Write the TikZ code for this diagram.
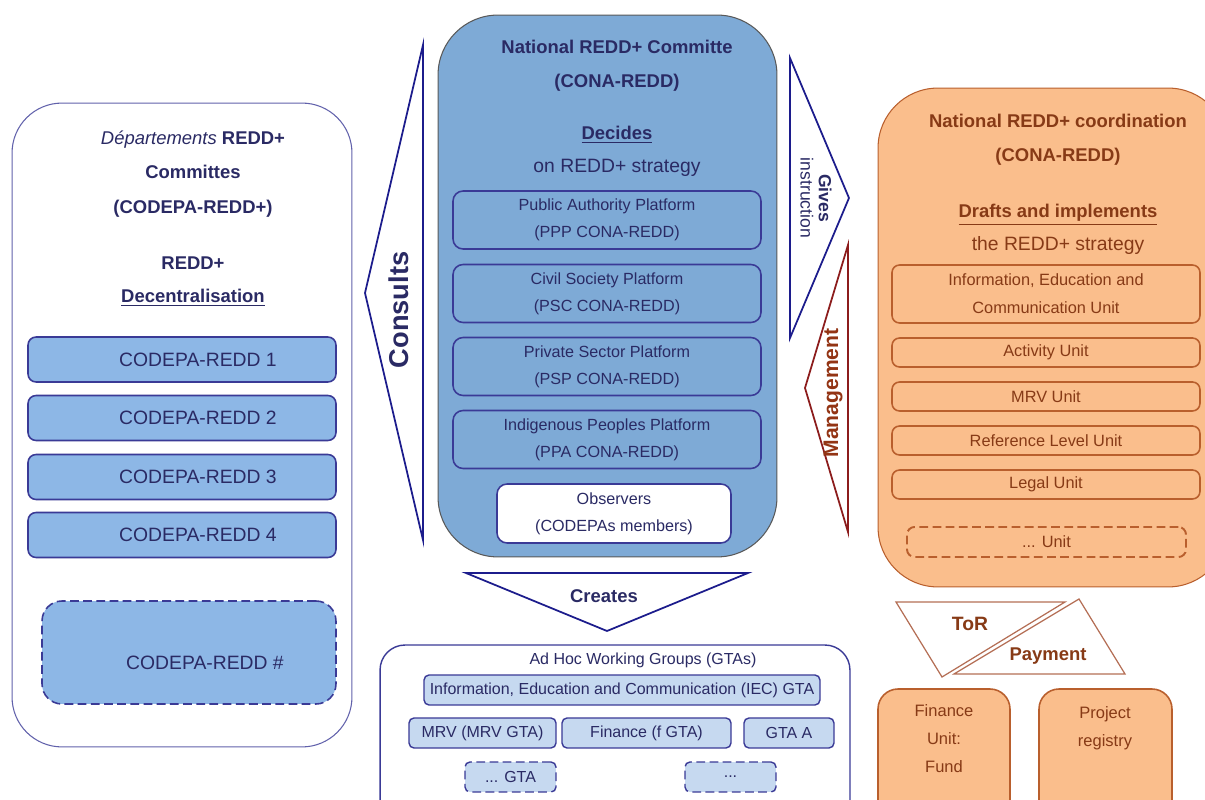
\documentclass[tikz,border=0pt]{standalone}
\usepackage{fontspec}
\setmainfont{Liberation Sans}
\newcommand{\setfs}[2]{\fontsize{#1}{#2}\selectfont}
\definecolor{navy}{RGB}{42,42,100}
\definecolor{edgeblue}{RGB}{58,58,150}
\definecolor{arrowblue}{RGB}{28,28,140}
\definecolor{conablue}{RGB}{126,170,214}
\definecolor{codepablue}{RGB}{141,183,230}
\definecolor{gtablue}{RGB}{198,217,240}
\definecolor{coordorange}{RGB}{250,190,140}
\definecolor{orangeedge}{RGB}{185,95,45}
\definecolor{coordbrown}{RGB}{135,58,22}
\definecolor{mgmtred}{RGB}{140,28,28}
\definecolor{tribrown}{RGB}{180,110,85}

\begin{document}
\begin{tikzpicture}[x=0.02cm, y=-0.02cm,
  panel/.style={draw, line width=0.6pt},
  head/.style={align=center, text=navy, font=\bfseries\setfs{10.5}{19.5}},
  codepabox/.style={draw=edgeblue, fill=codepablue, line width=0.9pt, rounded corners=0.16cm,
    minimum width=6.16cm, minimum height=0.9cm, text=navy, font=\setfs{11}{13},
    execute at begin node={\hspace*{0.64cm}}},
  platform/.style={draw=edgeblue, line width=0.9pt, rounded corners=0.2cm, minimum width=6.16cm,
    minimum height=1.16cm, align=center, text=navy, font=\setfs{9.2}{15.3}},
  unit/.style={draw=orangeedge, line width=0.9pt, rounded corners=0.15cm, minimum width=6.16cm,
    minimum height=0.58cm, align=center, text=coordbrown, font=\setfs{9.3}{15.9}},
  gtabox/.style={draw=edgeblue, fill=gtablue, line width=0.8pt, rounded corners=0.1cm,
    minimum height=0.6cm, inner sep=1pt, text=navy, font=\setfs{9.1}{11}},
  wedge/.style={line width=1pt, line join=miter},
  longdash/.style={dash pattern=on 5pt off 2.5pt}]
  \useasboundingbox (0,0) rectangle (1205,800);

  \node[panel, draw=edgeblue!80, fill=white, minimum width=6.8cm, minimum height=12.88cm, rounded corners=1cm] (codepa) at (182,425) {};
  \node[head] (codepaT) at (193,174) {\textit{\mdseries Départements} REDD+\\Committes\\(CODEPA-REDD+)};
  \node[head, font=\bfseries\setfs{10.5}{18.7}] (codepaD) at (193,281.5) {REDD+\\\underline{Decentralisation}};
  \node[codepabox] (c1) at (182,359.5) {CODEPA-REDD 1};
  \node[codepabox] (c2) at (182,418) {CODEPA-REDD 2};
  \node[codepabox] (c3) at (182,477) {CODEPA-REDD 3};
  \node[codepabox] (c4) at (182,535) {CODEPA-REDD 4};
  \node[codepabox, longdash, minimum width=5.88cm, minimum height=2.06cm, rounded corners=0.4cm,
    text height=0.68cm, text depth=0cm] (cX) at (189,652.5) {CODEPA-REDD \#};

  \coordinate (consN) at (423,45);
  \coordinate (consW) at (365,293);
  \coordinate (consS) at (423,540);
  \draw[wedge, arrowblue] (consN) -- (consW) -- (consS) -- cycle;
  \node[rotate=90, text=navy, font=\bfseries\setfs{15.5}{17}] (consL) at (399,310) {Consults};

  \node[panel, draw=black!65, fill=conablue, minimum width=6.78cm, minimum height=10.84cm, rounded corners=1.2cm] (cona) at (607.5,286) {};
  \node[head] (conaT) at (617,65.5) {National REDD+ Committe\\(CONA-REDD)};
  \node[head, font=\bfseries\setfs{10.5}{18.7}] (conaD) at (617,151.5) {\underline{Decides}\\{\mdseries\setfs{11}{18.7}on REDD+ strategy}};
  \node[platform] (ppp) at (607,220) {Public Authority Platform\\(PPP CONA-REDD)};
  \node[platform] (psc) at (607,293.5) {Civil Society Platform\\(PSC CONA-REDD)};
  \node[platform] (psp) at (607,366.5) {Private Sector Platform\\(PSP CONA-REDD)};
  \node[platform] (ppa) at (607,439.5) {Indigenous Peoples Platform\\(PPA CONA-REDD)};
  \node[platform, fill=white, minimum width=4.68cm, minimum height=1.18cm] (obs) at (614,513.5) {Observers\\(CODEPAs members)};

  \coordinate (givN) at (790,58);
  \coordinate (givE) at (849,198);
  \coordinate (givS) at (790,338);
  \draw[wedge, arrowblue] (givN) -- (givE) -- (givS) -- cycle;
  \node[rotate=-90, align=center, text=navy, font=\setfs{10}{10.3}] (givL) at (816,198) {\textbf{Gives}\\instruction};

  \coordinate (mgmN) at (848,245);
  \coordinate (mgmW) at (805,388);
  \coordinate (mgmS) at (848,532);
  \draw[wedge, mgmtred] (mgmN) -- (mgmW) -- (mgmS) -- cycle;
  \node[rotate=90, text=coordbrown!90!red, font=\bfseries\setfs{12}{13}] (mgmL) at (833,393) {Management};

  \node[panel, draw=orangeedge, fill=coordorange, minimum width=7cm, minimum height=9.98cm, rounded corners=1.2cm] (coord) at (1053,337.5) {};
  \node[head, text=coordbrown] (coordT) at (1058,139.5) {National REDD+ coordination\\(CONA-REDD)};
  \node[head, text=coordbrown, font=\bfseries\setfs{10.5}{18.7}] (coordD) at (1058,229.5) {\underline{Drafts and implements}\\{\mdseries\setfs{11}{18.7}the REDD+ strategy}};
  \node[unit, minimum height=1.16cm] (iecU) at (1046,294) {Information, Education and\\Communication Unit};
  \node[unit] (actU) at (1046,352.5) {Activity Unit};
  \node[unit] (mrvU) at (1046,396.5) {MRV Unit};
  \node[unit] (refU) at (1046,440.5) {Reference Level Unit};
  \node[unit] (legU) at (1046,484.5) {Legal Unit};
  \node[unit, longdash, line width=1.1pt, minimum width=5.58cm, minimum height=0.6cm] (etcU) at (1046.5,542) {... Unit};

  \coordinate (creW) at (466,573);
  \coordinate (creE) at (748,573);
  \coordinate (creS) at (607,631);
  \draw[wedge, arrowblue] (creW) -- (creE) -- (creS) -- cycle;
  \node[text=navy, font=\bfseries\setfs{10.5}{12}] (creL) at (604,596) {Creates};

  \node[panel, draw=edgeblue, fill=white, line width=0.8pt, minimum width=9.4cm, minimum height=3.7cm, rounded corners=0.5cm] (gta) at (615,737.5) {};
  \node[text=navy, font=\setfs{9.1}{11}] (gtaT) at (643,660) {Ad Hoc Working Groups (GTAs)};
  \node[gtabox, minimum width=7.92cm] (gtaIEC) at (622,690) {Information, Education and Communication (IEC) GTA};
  \node[gtabox, minimum width=2.94cm] (gtaMRV) at (482.5,733) {MRV (MRV GTA)};
  \node[gtabox, minimum width=3.38cm] (gtaF) at (646.5,733) {Finance (f GTA)};
  \node[gtabox, minimum width=1.8cm] (gtaA) at (789,733) {GTA A};
  \node[gtabox, longdash, minimum width=1.82cm] (gtaX) at (510.5,777) {... GTA};
  \node[gtabox, longdash, minimum width=1.82cm] (gtaY) at (730.5,777) {...};

  \coordinate (torA) at (896,602);
  \coordinate (torB) at (1065,602);
  \coordinate (torC) at (942,677);
  \draw[line width=0.7pt, tribrown] (torA) -- (torB) -- (torC) -- cycle;
  \coordinate (payA) at (1079,599);
  \coordinate (payB) at (1125,674);
  \coordinate (payC) at (954,674);
  \draw[line width=0.7pt, tribrown] (payA) -- (payB) -- (payC) -- cycle;
  \node[text=coordbrown, font=\bfseries\setfs{11}{12}] (torL) at (970,624) {ToR};
  \node[text=coordbrown, font=\bfseries\setfs{10.5}{12}] (payL) at (1048,656) {Payment};

  \node[panel, draw=orangeedge, fill=coordorange, line width=0.9pt, minimum width=2.64cm, minimum height=2.82cm, rounded corners=0.4cm] (finU) at (944,759.5) {};
  \node[align=center, text=coordbrown, font=\setfs{9.4}{15.9}] (finT) at (944,739) {Finance\\Unit:\\Fund};
  \node[panel, draw=orangeedge, fill=coordorange, line width=0.9pt, minimum width=2.66cm, minimum height=2.82cm, rounded corners=0.4cm] (regU) at (1105.5,759.5) {};
  \node[align=center, text=coordbrown, font=\setfs{9.4}{15.9}] (regT) at (1105,728) {Project\\registry};

\end{tikzpicture}
\end{document}
